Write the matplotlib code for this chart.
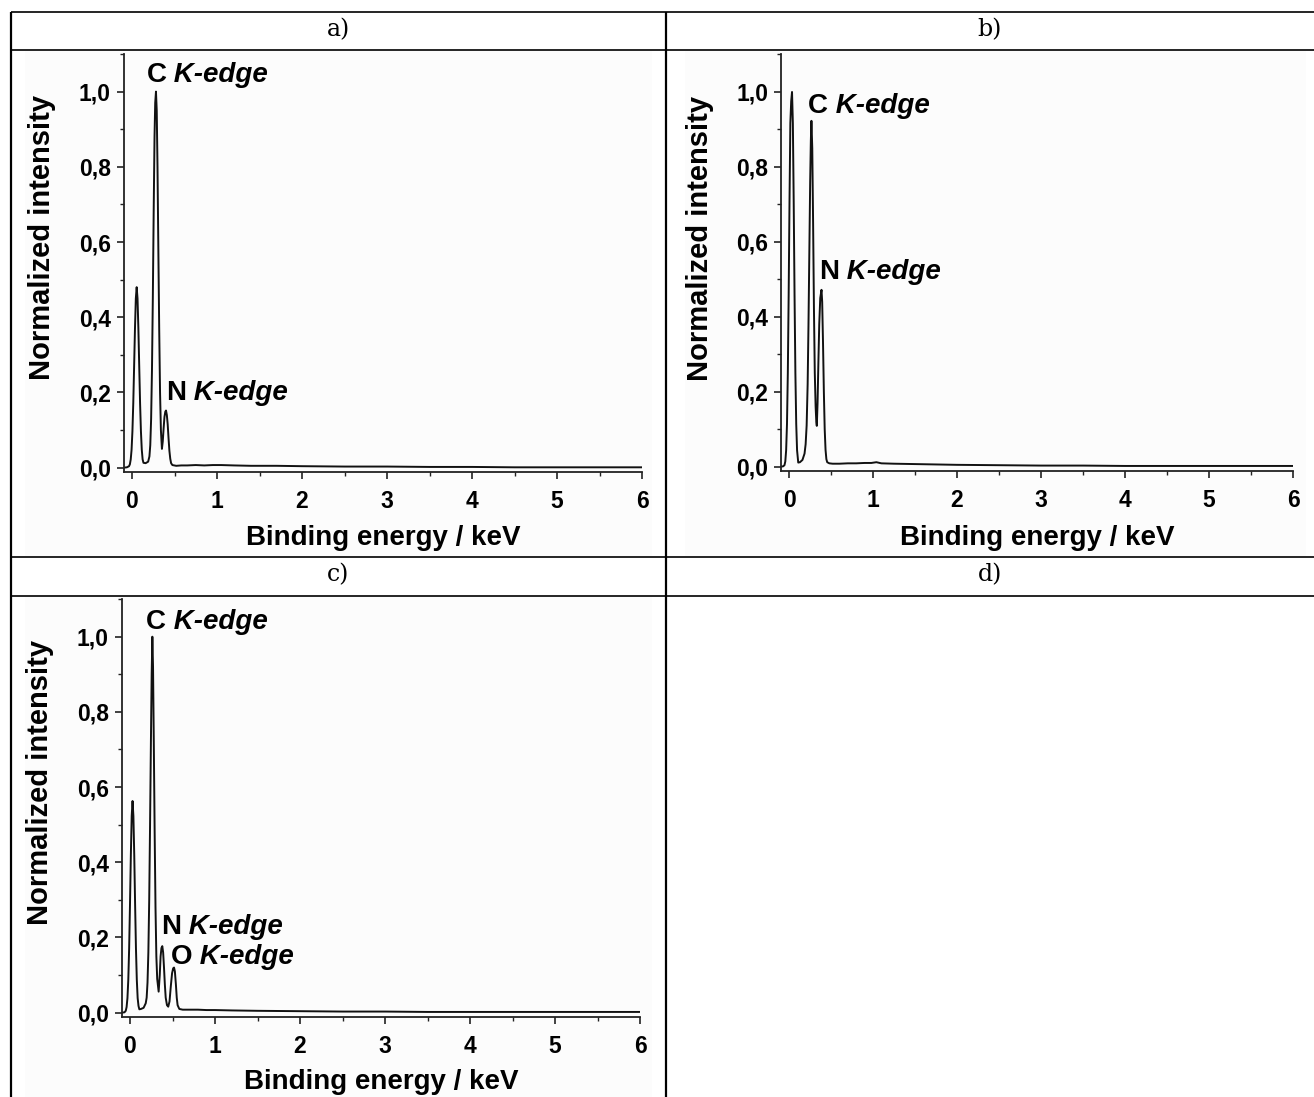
import matplotlib
matplotlib.use("Agg")
import matplotlib.pyplot as plt
from matplotlib.lines import Line2D
from matplotlib.patches import Rectangle
from matplotlib.ticker import MultipleLocator, FuncFormatter

########################################
# Spectra read point by point (keV, normalized intensity)
########################################
energy_a = [-0.10, -0.06, -0.035, -0.025, -0.015, -0.005, 0.005, 0.015, 0.025, 0.035,
            0.045, 0.055, 0.065, 0.075, 0.085, 0.095, 0.105, 0.115, 0.125, 0.135,
            0.16, 0.19, 0.205, 0.215, 0.225, 0.235, 0.245, 0.255, 0.265, 0.273,
            0.282, 0.291, 0.30, 0.31, 0.32, 0.33, 0.34, 0.352, 0.362, 0.372,
            0.382, 0.392, 0.40, 0.41, 0.42, 0.43, 0.44, 0.45, 0.46, 0.475,
            0.52, 0.58, 0.65, 0.75, 0.85, 0.95, 1.05, 1.2, 1.4, 1.7,
            2.0, 2.5, 3.0, 3.5, 4.0, 4.5, 5.0, 5.5, 6.0]
intensity_a = [0.000, 0.001, 0.004, 0.009, 0.022, 0.048, 0.097, 0.172, 0.27, 0.37,
               0.45, 0.48, 0.45, 0.37, 0.27, 0.172, 0.097, 0.048, 0.022, 0.013,
               0.012, 0.016, 0.03, 0.06, 0.13, 0.26, 0.45, 0.68, 0.88, 0.97,
               1.00, 0.95, 0.80, 0.58, 0.37, 0.20, 0.10, 0.05, 0.07, 0.105,
               0.135, 0.149, 0.152, 0.14, 0.115, 0.078, 0.045, 0.024, 0.012, 0.007,
               0.005, 0.006, 0.006, 0.007, 0.006, 0.007, 0.007, 0.006, 0.005, 0.005,
               0.004, 0.003, 0.003, 0.002, 0.002, 0.001, 0.001, 0.001, 0.001]

energy_b = [-0.10, -0.07, -0.054, -0.044, -0.034, -0.024, -0.014, -0.004, 0.006, 0.016,
            0.026, 0.036, 0.046, 0.056, 0.066, 0.076, 0.086, 0.096, 0.11, 0.13,
            0.16, 0.185, 0.198, 0.21, 0.222, 0.232, 0.242, 0.252, 0.26, 0.267,
            0.277, 0.287, 0.297, 0.307, 0.317, 0.325, 0.331, 0.34, 0.35, 0.36,
            0.372, 0.387, 0.395, 0.405, 0.415, 0.425, 0.435, 0.445, 0.455, 0.48,
            0.52, 0.6, 0.7, 0.8, 0.9, 0.98, 1.04, 1.1, 1.25, 1.5,
            2.0, 2.5, 3.0, 3.5, 4.0, 4.5, 5.0, 5.5, 6.0]
intensity_b = [0.000, 0.001, 0.004, 0.014, 0.044, 0.114, 0.25, 0.458, 0.707, 0.917,
               0.975, 1.00, 0.917, 0.707, 0.458, 0.25, 0.114, 0.044, 0.011, 0.012,
               0.018, 0.035, 0.06, 0.11, 0.22, 0.38, 0.57, 0.76, 0.87, 0.923,
               0.85, 0.65, 0.42, 0.25, 0.16, 0.12, 0.109, 0.17, 0.28, 0.38,
               0.45, 0.472, 0.44, 0.33, 0.2, 0.1, 0.045, 0.02, 0.012, 0.009,
               0.008, 0.008, 0.009, 0.009, 0.010, 0.010, 0.012, 0.009, 0.008, 0.007,
               0.005, 0.004, 0.003, 0.003, 0.002, 0.002, 0.002, 0.002, 0.002]

energy_c = [-0.10, -0.065, -0.05, -0.04, -0.03, -0.02, -0.01, 0.0, 0.01, 0.02,
            0.03, 0.04, 0.05, 0.06, 0.07, 0.08, 0.09, 0.10, 0.11, 0.13,
            0.16, 0.185, 0.196, 0.206, 0.216, 0.226, 0.236, 0.246, 0.255, 0.263,
            0.271, 0.28, 0.29, 0.30, 0.31, 0.32, 0.337, 0.35, 0.36, 0.37,
            0.38, 0.39, 0.40, 0.41, 0.42, 0.435, 0.45, 0.465, 0.48, 0.495,
            0.508, 0.518, 0.528, 0.54, 0.55, 0.56, 0.58, 0.62, 0.7, 0.8,
            0.9, 1.0, 1.2, 1.5, 2.0, 2.5, 3.0, 3.5, 4.0, 4.5,
            5.0, 5.5, 6.0]
intensity_c = [0.000, 0.001, 0.005, 0.015, 0.039, 0.088, 0.172, 0.289, 0.419, 0.523,
               0.563, 0.523, 0.419, 0.289, 0.172, 0.088, 0.039, 0.018, 0.009, 0.010,
               0.013, 0.025, 0.04, 0.08, 0.16, 0.3, 0.5, 0.72, 0.9, 1.00,
               0.92, 0.72, 0.48, 0.28, 0.15, 0.09, 0.056, 0.1, 0.15, 0.172,
               0.177, 0.16, 0.12, 0.075, 0.04, 0.02, 0.016, 0.03, 0.07, 0.105,
               0.118, 0.12, 0.11, 0.075, 0.04, 0.02, 0.01, 0.008, 0.008, 0.008,
               0.007, 0.007, 0.006, 0.005, 0.004, 0.003, 0.003, 0.002, 0.002, 0.002,
               0.002, 0.002, 0.002]

# peak labels: (element, x, y) in data units, text baseline at y
labels_a = [("C", 0.17, 1.025), ("N", 0.405, 0.18)]
labels_b = [("C", 0.23, 0.945), ("N", 0.362, 0.50)]
labels_c = [("C", 0.188, 1.02), ("N", 0.365, 0.21), ("O", 0.482, 0.13)]

panel_titles = ["a)", "b)", "c)", "d)"]

y_axis_label = "Normalized intensity"
x_axis_label = "Binding energy / keV"

########################################
# Figure and table grid
########################################
W, H = 1314, 1097
fig = plt.figure(figsize=(W / 100, H / 100), dpi=100)
fig.patch.set_facecolor("white")

sans = "Liberation Sans"


def px_line(x0, y0, x1, y1, lw):
    fig.add_artist(Line2D([x0 / W, x1 / W], [1 - y0 / H, 1 - y1 / H],
                          transform=fig.transFigure, color="black", lw=lw,
                          solid_capstyle="butt"))


def px_rect(x0, y0, x1, y1, color):
    fig.add_artist(Rectangle((x0 / W, 1 - y1 / H), (x1 - x0) / W, (y1 - y0) / H,
                             transform=fig.transFigure, color=color, lw=0, zorder=0))


# faint background of the pasted plot images
px_rect(25, 51, 652, 556, "#fcfcfc")
px_rect(685, 51, 1306, 556, "#fcfcfc")
px_rect(25, 597, 652, 1097, "#fcfcfc")

# table rules
for y in (12, 50, 557, 596):
    px_line(11, y, W, y, 1.2)
px_line(11, 12, 11, H, 1.6)
px_line(666, 12, 666, H, 1.6)

# cell captions
for title, (cx, cy) in zip(panel_titles, [(338, 30), (990, 30), (338, 575), (990, 575)]):
    fig.text(cx / W, 1 - cy / H, title, ha="center", va="center",
             family="DejaVu Serif", fontsize=17)


########################################
# Spectrum panels
########################################
def comma_fmt(v, pos):
    return f"{v:.1f}".replace(".", ",")


def draw_panel(box, energy, intensity, labels, ylab_xy, xlab_y):
    left, top, right, bottom = box
    ax = fig.add_axes([left / W, 1 - bottom / H, (right - left) / W, (bottom - top) / H])
    ax.set_facecolor("none")
    ax.plot(energy, intensity, color="#111111", lw=1.4)
    ax.set_xlim(-0.1, 6)
    ax.set_ylim(-0.012, 1.1)

    for s in ("top", "right"):
        ax.spines[s].set_visible(False)
    for s in ("left", "bottom"):
        ax.spines[s].set_linewidth(1.3)
        ax.spines[s].set_color("#222222")

    ax.xaxis.set_major_locator(MultipleLocator(1))
    ax.xaxis.set_minor_locator(MultipleLocator(0.5))
    ax.yaxis.set_major_locator(MultipleLocator(0.2))
    ax.yaxis.set_minor_locator(MultipleLocator(0.1))
    ax.yaxis.set_major_formatter(FuncFormatter(comma_fmt))
    ax.tick_params(which="major", direction="out", length=5, width=1.2, color="#222222")
    ax.tick_params(which="minor", direction="out", length=3, width=1.0, color="#222222")
    ax.tick_params(axis="x", which="major", pad=8)
    ax.tick_params(axis="y", which="major", pad=4)
    for t in ax.get_xticklabels() + ax.get_yticklabels():
        t.set_fontfamily(sans)
        t.set_fontweight("bold")
        t.set_fontsize(16.5)

    ax.set_ylabel(y_axis_label, family=sans, weight="bold", fontsize=21, va="center")
    ax.set_xlabel(x_axis_label, family=sans, weight="bold", fontsize=20, va="center")
    ylx, yly = ylab_xy
    ax.yaxis.set_label_coords((ylx - left) / (right - left), (bottom - yly) / (bottom - top))
    ax.xaxis.set_label_coords(0.5, (bottom - xlab_y) / (bottom - top))

    for elem, x, y in labels:
        t1 = ax.text(x, y, elem, family=sans, weight="bold", fontsize=20,
                     ha="left", va="baseline")
        ax.annotate(" K-edge", xy=(1, 0), xycoords=t1, ha="left", va="bottom",
                    family=sans, weight="bold", style="italic", fontsize=20)
    return ax


draw_panel((123.5, 54, 642, 472.2), energy_a, intensity_a, labels_a, (42, 237), 538)
draw_panel((780.6, 54.5, 1293, 471.2), energy_b, intensity_b, labels_b, (700, 238), 538)
draw_panel((121.5, 599.1, 640, 1017.2), energy_c, intensity_c, labels_c, (40, 782), 1082)

fig.savefig("out.png", dpi=100)
